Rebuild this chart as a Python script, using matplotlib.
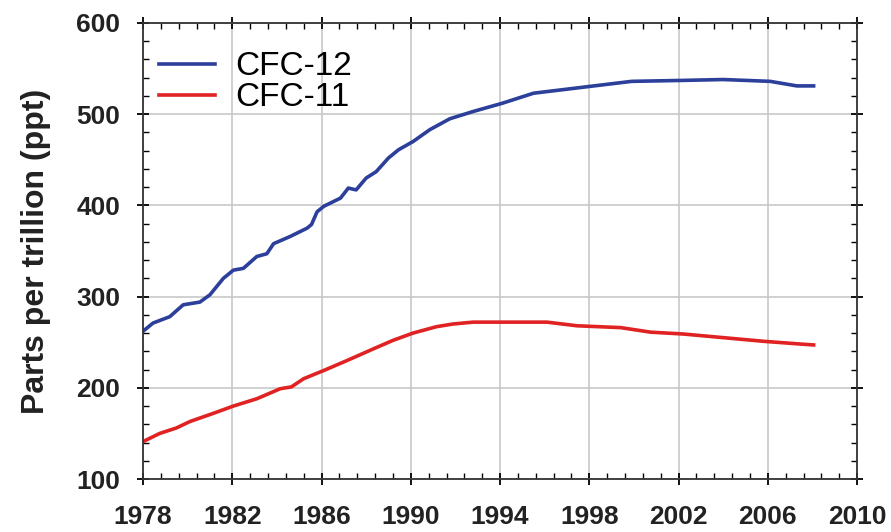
import matplotlib
matplotlib.use("Agg")
import matplotlib.pyplot as plt
from matplotlib.ticker import AutoMinorLocator

plt.rcParams['font.family'] = ['Liberation Sans', 'DejaVu Sans']

# values
cfc12_year = [1978.0, 1978.45, 1979.2, 1979.8, 1980.55, 1981.0, 1981.6, 1982.05,
              1982.5, 1983.1, 1983.55, 1983.85, 1984.6, 1985.35, 1985.55, 1985.8,
              1986.1, 1986.85, 1987.2, 1987.55, 1988.0, 1988.45, 1989.0, 1989.45,
              1990.1, 1990.85, 1991.75, 1992.8, 1994.1, 1995.5, 1996.85, 1998.2,
              1999.9, 2002.1, 2004.0, 2006.1, 2007.3, 2008.05]
cfc12 = [262, 271, 278, 291, 294, 302, 320, 329,
         331, 344, 347, 358, 366, 375, 379, 393,
         399, 408, 419, 417, 430, 437, 452, 461,
         470, 483, 495, 503, 512, 523, 527, 531,
         536, 537, 538, 536, 531, 531]
cfc11_year = [1978.0, 1978.75, 1979.5, 1980.1, 1981.15, 1982.05, 1983.1, 1984.15,
              1984.65, 1985.2, 1986.1, 1987.15, 1988.35, 1989.2, 1990.1, 1991.15,
              1991.9, 1992.8, 1996.1, 1997.45, 1999.4, 2000.75, 2002.2, 2004.0,
              2005.8, 2007.45, 2008.05]
cfc11 = [141, 150, 156, 163, 172, 180, 188, 199,
         201, 210, 219, 230, 243, 252, 260, 267,
         270, 272, 272, 268, 266, 261, 259, 255,
         251, 248, 247]
xticks = [1978, 1982, 1986, 1990, 1994, 1998, 2002, 2006, 2010]
yticks = [100, 200, 300, 400, 500, 600]

fig = plt.figure(figsize=(8.91, 5.32), dpi=100)
ax = fig.add_axes([0.1605, 0.0996, 0.8015, 0.8572])

ax.plot(cfc12_year, cfc12, color='#2b3f9b', lw=2.6, label='CFC-12')
ax.plot(cfc11_year, cfc11, color='#e02222', lw=2.6, label='CFC-11')

ax.set_xlim(1978, 2010)
ax.set_ylim(100, 600)
ax.set_xticks(xticks)
ax.set_yticks(yticks)
ax.xaxis.set_minor_locator(AutoMinorLocator(5))
ax.yaxis.set_minor_locator(AutoMinorLocator(5))
ax.grid(True, which='major', color='#c8c8c8', lw=1.2)

ax.tick_params(which='major', direction='inout', length=9, width=1.3,
               top=True, right=True, labelsize=19)
ax.tick_params(which='minor', direction='in', length=4, width=1,
               top=True, right=True)
ax.tick_params(axis='x', which='major', pad=14)
ax.tick_params(axis='y', which='major', pad=12)
for lab in ax.get_xticklabels() + ax.get_yticklabels():
    lab.set_fontweight('bold')
    lab.set_color('#222222')
for sp in ax.spines.values():
    sp.set_linewidth(1.3)
    sp.set_color('#333333')

ax.set_ylabel('Parts per trillion (ppt)', fontsize=23, fontweight='bold',
              color='#222222', labelpad=18)

ax.legend(loc='upper left', bbox_to_anchor=(-0.006, 0.982), frameon=False,
          fontsize=24, handlelength=1.7, borderaxespad=0.2, labelspacing=0.0,
          handletextpad=0.6)

fig.savefig('out.png', dpi=100)
